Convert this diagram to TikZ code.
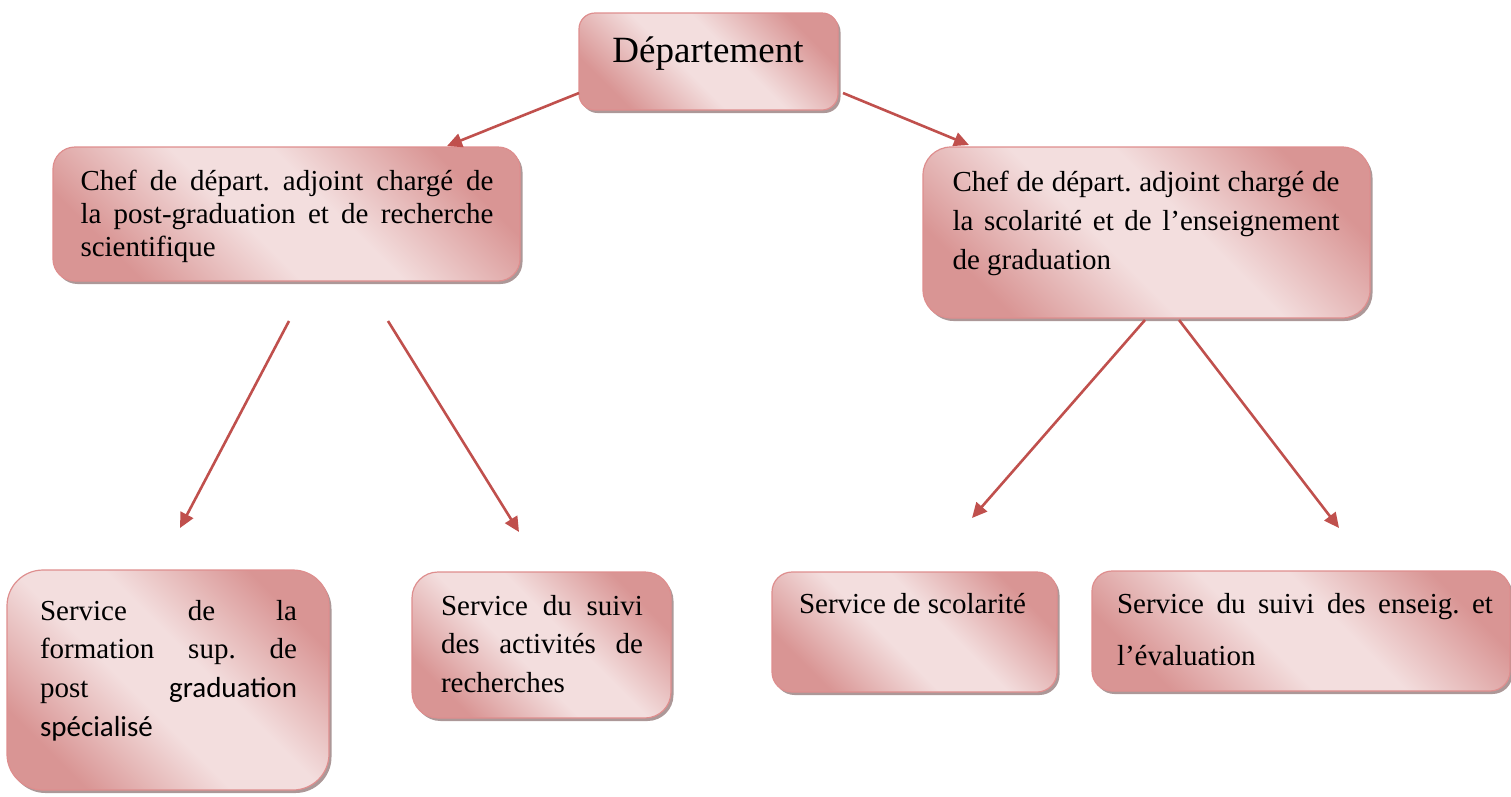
\documentclass[tikz,border=0pt]{standalone}
\usepackage{fontspec}
\setmainfont{Liberation Serif}
\newfontfamily\calibri{Carlito}
\usetikzlibrary{arrows.meta,shadows}
\frenchspacing
\definecolor{pinkdark}{RGB}{217,149,148}
\definecolor{pinklight}{RGB}{243,222,222}
\definecolor{pinkedge}{RGB}{222,142,142}
\definecolor{shadowgray}{RGB}{172,152,152}
\definecolor{arrowred}{RGB}{192,80,77}
\pgfdeclarehorizontalshading{pinkshade}{100bp}{color(0bp)=(pinkdark); color(25bp)=(pinkdark); color(44bp)=(pinklight); color(56bp)=(pinklight); color(75bp)=(pinkdark); color(100bp)=(pinkdark)}
\newcommand\JL[2]{\hbox{\makebox[#1][s]{#2}}}
\newcommand\NL[1]{\hbox{#1}}
\tikzset{
  box/.style={rectangle, draw=pinkedge, line width=1.2pt,
    shading=pinkshade, shading angle=45, inner sep=0pt, outer sep=0pt,
    drop shadow={shadow xshift=2.5pt, shadow yshift=-3pt, fill=shadowgray, opacity=1}},
  txt/.style={inner sep=0pt, outer sep=0pt, anchor=base west,
    font=\fontsize{29}{33}\selectfont},
  link/.style={draw=arrowred, line width=2.6pt, -{Triangle[length=15pt,width=14pt]}}
}
\begin{document}
\begin{tikzpicture}[x=1pt,y=-1pt]
\useasboundingbox (0,0) rectangle (1511,796);
% boxes
\node[box, minimum width=259pt, minimum height=97pt, rounded corners=16pt] (dep) at (708.5,61.5) {};
\node[box, minimum width=467pt, minimum height=134pt, rounded corners=22pt] (chefL) at (286.5,214) {};
\node[box, minimum width=447pt, minimum height=171pt, rounded corners=28pt] (chefR) at (1146.5,232.5) {};
\node[box, minimum width=322pt, minimum height=220pt, rounded corners=36pt] (b1) at (168,680) {};
\node[box, minimum width=259pt, minimum height=146pt, rounded corners=26pt] (b2) at (541.5,645) {};
\node[box, minimum width=285pt, minimum height=120pt, rounded corners=20pt] (b3) at (914.5,632) {};
\node[box, minimum width=418pt, minimum height=120pt, rounded corners=20pt] (b4) at (1301,631) {};
% texts
\node[inner sep=0pt, anchor=base, font=\fontsize{37}{40}\selectfont] (tdep) at (708,62) {Département};
\node[txt] (tchefL) at (80.5,190.5) {\vtop{\baselineskip=33pt
  \JL{413pt}{Chef de départ. adjoint chargé de}
  \JL{413pt}{la post-graduation et de recherche}
  \NL{scientifique}}};
\node[txt] (tchefR) at (952.5,191.5) {\vtop{\baselineskip=39pt
  \JL{387pt}{Chef de départ. adjoint chargé de}
  \JL{387pt}{la scolarité et de l’enseignement}
  \NL{de graduation}}};
\node[txt] (tb1) at (40,620) {\vtop{\baselineskip=38.7pt
  \JL{257pt}{Service de la}
  \JL{257pt}{formation sup. de}
  \JL{257pt}{post {\calibri graduation}}
  \NL{\calibri spécialisé}}};
\node[txt] (tb2) at (441,615) {\vtop{\baselineskip=38.5pt
  \JL{202pt}{Service du suivi}
  \JL{202pt}{des activités de}
  \NL{recherches}}};
\node[txt] (tb3) at (799,613) {Service de scolarité};
\node[txt] (tb4) at (1117,613) {\vtop{\baselineskip=52pt
  \JL{376pt}{Service du suivi des enseig. et}
  \NL{l’évaluation}}};
% arrow end points
\coordinate (s1) at (579,93);   \coordinate (e1) at (447,146);
\coordinate (s2) at (843,93);   \coordinate (e2) at (969,145);
\coordinate (s3) at (289,321);  \coordinate (e3) at (180,528);
\coordinate (s4) at (388,321);  \coordinate (e4) at (519,532);
\coordinate (s5) at (1145,320); \coordinate (e5) at (972,518);
\coordinate (s6) at (1179,320); \coordinate (e6) at (1339,528);
\draw[link] (s1) -- (e1);
\draw[link] (s2) -- (e2);
\draw[link] (s3) -- (e3);
\draw[link] (s4) -- (e4);
\draw[link] (s5) -- (e5);
\draw[link] (s6) -- (e6);
\end{tikzpicture}
\end{document}
